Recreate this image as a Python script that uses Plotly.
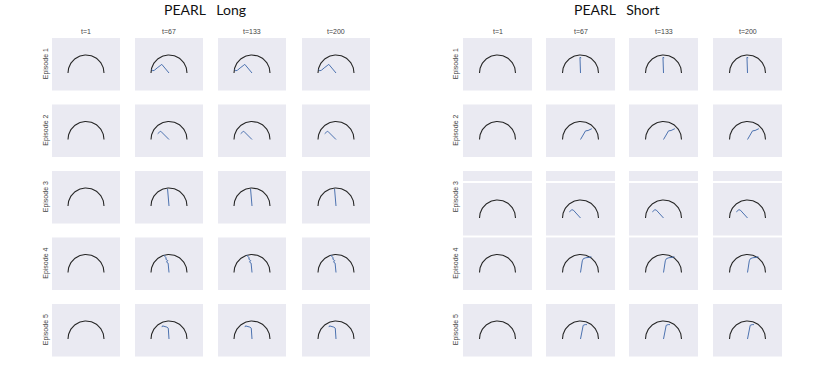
import numpy as np
import plotly.graph_objects as go

W, H = 830, 392

# ---------------- data ----------------
TIME_LABELS = ["t=1", "t=67", "t=133", "t=200"]
EPISODE_LABELS = ["Episode 1", "Episode 2", "Episode 3", "Episode 4", "Episode 5"]
PANEL_TITLES = ["PEARL\u00a0\u00a0\u00a0Long", "PEARL\u00a0\u00a0\u00a0Short"]

ARC_RADIUS = 1.0

# PEARL Long trajectories (same path shown at t=67/133/200, none at t=1)
LONG_EP1_X = [0, -0.12, -0.26, -0.40, -0.45, -0.52, -0.66, -0.80, -0.90, -0.96]
LONG_EP1_Y = [0, 0.14, 0.32, 0.48, 0.44, 0.40, 0.28, 0.16, 0.12, 0.20]
LONG_EP2_X = [0, -0.18, -0.36, -0.46, -0.52, -0.58, -0.63]
LONG_EP2_Y = [0, 0.20, 0.40, 0.46, 0.42, 0.38, 0.32]
LONG_EP3_X = [0, -0.02, -0.05, -0.08]
LONG_EP3_Y = [0, 0.35, 0.70, 0.95]
LONG_EP4_X = [0, -0.02, -0.05, -0.14, -0.07, -0.18, -0.15, -0.25, -0.27]
LONG_EP4_Y = [0, 0.30, 0.52, 0.58, 0.66, 0.74, 0.82, 0.90, 0.97]
LONG_EP5_X = [0, -0.02, -0.04, -0.12, -0.22, -0.30, -0.36, -0.39]
LONG_EP5_Y = [0, 0.30, 0.60, 0.66, 0.70, 0.74, 0.73, 0.66]

# PEARL Short trajectories
SHORT_EP1_X = [0, 0.0, 0.0, -0.03, 0.04]
SHORT_EP1_Y = [0, 0.40, 0.80, 0.87, 0.84]
SHORT_EP2_X = [0, 0.14, 0.28, 0.42, 0.56, 0.63]
SHORT_EP2_Y = [0, 0.25, 0.48, 0.50, 0.54, 0.60]
SHORT_EP3_X = [0, -0.20, -0.40, -0.48, -0.54, -0.62]
SHORT_EP3_Y = [0, 0.22, 0.44, 0.46, 0.40, 0.34]
SHORT_EP4_X = [0, 0.05, 0.10, 0.16, 0.30, 0.48, 0.60]
SHORT_EP4_Y = [0, 0.35, 0.65, 0.77, 0.82, 0.84, 0.88]
SHORT_EP5_X = [0, 0.05, 0.10, 0.15, 0.26, 0.36]
SHORT_EP5_Y = [0, 0.35, 0.65, 0.76, 0.80, 0.80]

LONG_TRAJ = [(LONG_EP1_X, LONG_EP1_Y), (LONG_EP2_X, LONG_EP2_Y), (LONG_EP3_X, LONG_EP3_Y),
             (LONG_EP4_X, LONG_EP4_Y), (LONG_EP5_X, LONG_EP5_Y)]
SHORT_TRAJ = [(SHORT_EP1_X, SHORT_EP1_Y), (SHORT_EP2_X, SHORT_EP2_Y), (SHORT_EP3_X, SHORT_EP3_Y),
              (SHORT_EP4_X, SHORT_EP4_Y), (SHORT_EP5_X, SHORT_EP5_Y)]
SHOW_TRAJ = [False, True, True, True, True]

# ---------------- layout geometry (pixels) ----------------
LEFT_COLS = [52, 135, 218, 302]
RIGHT_COLS = [463, 546, 629, 713]
LEFT_W, RIGHT_W = 68, 69
ROW_TOPS_LEFT = [38, 104.5, 171, 237.5, 304]
ROW_TOPS_RIGHT = [38, 104.5, 183, 237.5, 304]
PANEL_H = 52.5
PX_PER_UNIT = 18.0
BASE_FROM_TOP = 35.0

BG = "#EAEAF2"
TRAJ_COLOR = "#4C72B0"

theta = np.linspace(0, np.pi, 90)
arc_x = ARC_RADIUS * np.cos(theta)
arc_y = ARC_RADIUS * np.sin(theta)

fig = go.Figure()
layout = {}
annotations = []
shapes = []

def px_x(v):
    return v / W

def px_y(v):
    return 1 - v / H

idx = 0
for side, (cols, colw, rowtops, trajs) in enumerate([
        (LEFT_COLS, LEFT_W, ROW_TOPS_LEFT, LONG_TRAJ),
        (RIGHT_COLS, RIGHT_W, ROW_TOPS_RIGHT, SHORT_TRAJ)]):
    for r, top in enumerate(rowtops):
        for c, left in enumerate(cols):
            idx += 1
            xa = "x" if idx == 1 else f"x{idx}"
            ya = "y" if idx == 1 else f"y{idx}"
            xr = colw / 2 / PX_PER_UNIT
            ylo = -(PANEL_H - BASE_FROM_TOP) / PX_PER_UNIT
            yhi = BASE_FROM_TOP / PX_PER_UNIT
            axcommon = dict(showgrid=False, zeroline=False, showticklabels=False,
                            ticks="", showline=False, fixedrange=True)
            layout["xaxis" if idx == 1 else f"xaxis{idx}"] = dict(
                domain=[px_x(left), px_x(left + colw)], range=[-xr, xr],
                anchor=ya, **axcommon)
            layout["yaxis" if idx == 1 else f"yaxis{idx}"] = dict(
                domain=[px_y(top + PANEL_H), px_y(top)], range=[ylo, yhi],
                anchor=xa, **axcommon)
            fig.add_trace(go.Scatter(x=arc_x, y=arc_y, mode="lines",
                                     line=dict(color="#262626", width=1.1),
                                     xaxis=xa, yaxis=ya, showlegend=False, hoverinfo="skip"))
            if SHOW_TRAJ[c]:
                tx, ty = trajs[r]
                fig.add_trace(go.Scatter(x=tx, y=ty, mode="lines",
                                         line=dict(color=TRAJ_COLOR, width=1.0),
                                         xaxis=xa, yaxis=ya, showlegend=False, hoverinfo="skip"))
            if r == 0:
                annotations.append(dict(text=TIME_LABELS[c], x=px_x(left + colw / 2), y=px_y(32),
                                        xref="paper", yref="paper", showarrow=False,
                                        xanchor="center", yanchor="middle",
                                        font=dict(family="Liberation Sans, Arial", size=7, color="#444")))
    # row labels
    lab_x = 46 if side == 0 else 456
    for r, top in enumerate(ROW_TOPS_LEFT):
        annotations.append(dict(text=EPISODE_LABELS[r], x=px_x(lab_x), y=px_y(top + PANEL_H / 2),
                                xref="paper", yref="paper", showarrow=False, textangle=-90,
                                xanchor="center", yanchor="middle",
                                font=dict(family="Liberation Sans, Arial", size=7, color="#444")))
    # panel title
    tx_center = 205 if side == 0 else 617
    annotations.append(dict(text=PANEL_TITLES[side], x=px_x(tx_center), y=px_y(9),
                            xref="paper", yref="paper", showarrow=False,
                            xanchor="center", yanchor="middle",
                            font=dict(family="Lato, Open Sans, sans-serif", size=14, color="#111")))

# leftover strip of the overlapped Episode 3 row in the right grid
for left in RIGHT_COLS:
    shapes.append(dict(type="rect", xref="paper", yref="paper",
                       x0=px_x(left), x1=px_x(left + RIGHT_W), y0=px_y(181), y1=px_y(171),
                       fillcolor=BG, line=dict(width=0), layer="below"))

fig.update_layout(width=W, height=H, margin=dict(l=0, r=0, t=0, b=0),
                  paper_bgcolor="white", plot_bgcolor=BG,
                  annotations=annotations, shapes=shapes, showlegend=False, **layout)

fig.write_html("out.html", config={"displayModeBar": False},
               post_script="document.body.style.margin='0';")
